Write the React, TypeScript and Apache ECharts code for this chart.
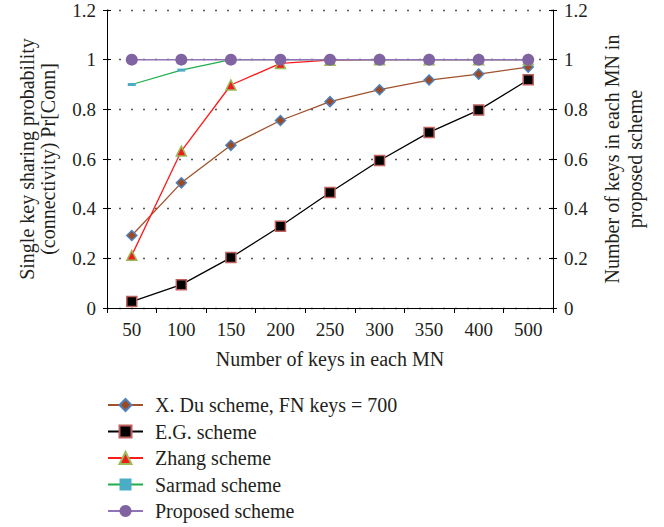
import React, { useEffect, useRef } from "react";
import * as echarts from "echarts";

const categories = ["50", "100", "150", "200", "250", "300", "350", "400", "500"];
const xDu = [0.292, 0.504, 0.655, 0.755, 0.831, 0.879, 0.918, 0.942, 0.97];
const eg = [0.026, 0.094, 0.203, 0.329, 0.465, 0.594, 0.707, 0.797, 0.919];
const zhang = [0.212, 0.632, 0.898, 0.985, 0.998, 1, 1, 1, 1];
const sarmad = [0.9, 0.958, 1, 1, 1, 1, 1, 1, 1];
const proposed = [1, 1, 1, 1, 1, 1, 1, 1, 1];

const FONT = "Liberation Serif";
const TXT = "#231f20";

export default function App() {
  const ref = useRef<HTMLDivElement>(null);
  useEffect(() => {
    if (!ref.current) return;
    document.body.style.margin = "0";
    const chart = echarts.init(ref.current, null, { renderer: "svg" });
    const yBase = {
      type: "value",
      min: 0,
      max: 1.2,
      interval: 0.2,
    };
    const fmt = (v: number) => String(Math.round(v * 10) / 10);
    chart.setOption({
      animation: false,
      textStyle: { fontFamily: FONT, color: TXT },
      grid: { left: 107, right: 111, top: 10, bottom: 219, containLabel: false },
      legend: {
        orient: "vertical",
        left: 107,
        top: 395,
        height: 132,
        padding: 0,
        itemWidth: 35,
        itemHeight: 15,
        itemGap: 6.5,
        textStyle: { fontFamily: FONT, fontSize: 20, color: TXT, padding: [0, 0, 0, 7] },
        data: [
          "X. Du scheme, FN keys = 700",
          "E.G. scheme",
          "Zhang scheme",
          "Sarmad scheme",
          "Proposed scheme",
        ],
      },
      xAxis: {
        type: "category",
        data: categories,
        boundaryGap: true,
        name: "Number of keys in each MN",
        nameLocation: "middle",
        nameGap: 41,
        nameTextStyle: { fontFamily: FONT, fontSize: 20, color: TXT, verticalAlign: "top" },
        axisLine: { lineStyle: { color: "#000", width: 1 } },
        axisTick: { show: true, length: 5, lineStyle: { color: "#000" } },
        axisLabel: { fontFamily: FONT, fontSize: 19, color: TXT, margin: 12 },
        splitLine: { show: false },
      },
      yAxis: [
        {
          ...yBase,
          position: "left",
          name: "Single key sharing probability\n(connectivity) Pr[Conn]",
          nameLocation: "middle",
          nameRotate: 90,
          nameGap: 49,
          nameTextStyle: { fontFamily: FONT, fontSize: 20, color: TXT, lineHeight: 21 },
          axisLine: { show: true, lineStyle: { color: "#000", width: 1 } },
          axisTick: { show: true, length: 4, lineStyle: { color: "#000" } },
          axisLabel: { fontFamily: FONT, fontSize: 19, color: TXT, margin: 11, formatter: fmt },
          splitLine: {
            show: true,
            lineStyle: { color: "#555", type: [2, 10], width: 1.3 },
          },
        },
        {
          ...yBase,
          position: "right",
          name: "Number of keys in each MN in\nproposed scheme",
          nameLocation: "middle",
          nameRotate: 90,
          nameGap: 47,
          nameTextStyle: { fontFamily: FONT, fontSize: 20, color: TXT, lineHeight: 23 },
          axisLine: { show: true, lineStyle: { color: "#000", width: 1 } },
          axisTick: { show: true, length: 4, lineStyle: { color: "#000" } },
          axisLabel: { fontFamily: FONT, fontSize: 19, color: TXT, margin: 11, formatter: fmt },
          splitLine: { show: false },
        },
        {
          ...yBase,
          position: "left",
          axisLine: { show: false },
          axisTick: { show: true, inside: true, length: 4, lineStyle: { color: "#000" } },
          axisLabel: { show: false },
          splitLine: { show: false },
        },
        {
          ...yBase,
          position: "right",
          axisLine: { show: false },
          axisTick: { show: true, inside: true, length: 4, lineStyle: { color: "#000" } },
          axisLabel: { show: false },
          splitLine: { show: false },
        },
      ],
      series: [
        {
          name: "X. Du scheme, FN keys = 700",
          type: "line",
          data: xDu,
          symbol: "diamond",
          symbolSize: 10,
          lineStyle: { color: "#a0522d", width: 1.3 },
          itemStyle: { color: "#9c4a22", borderColor: "#4f81bd", borderWidth: 1.5 },
        },
        {
          name: "E.G. scheme",
          type: "line",
          data: eg,
          symbol: "rect",
          symbolSize: 10,
          lineStyle: { color: "#000", width: 1.3 },
          itemStyle: { color: "#000", borderColor: "#c0605d", borderWidth: 1.5 },
        },
        {
          name: "Zhang scheme",
          type: "line",
          data: zhang,
          symbol: "triangle",
          symbolSize: 10,
          lineStyle: { color: "#ff1a1a", width: 1.3 },
          itemStyle: { color: "#ee1c1c", borderColor: "#9bbb59", borderWidth: 1.5 },
        },
        {
          name: "Sarmad scheme",
          type: "line",
          data: sarmad,
          symbol: "rect",
          symbolSize: [8, 3],
          lineStyle: { color: "#1fae4b", width: 1.3 },
          itemStyle: { color: "#4bacc6", borderWidth: 0 },
        },
        {
          name: "Proposed scheme",
          type: "line",
          data: proposed,
          symbol: "circle",
          symbolSize: 12,
          lineStyle: { color: "#8f75b5", width: 1.5 },
          itemStyle: { color: "#8064a2", borderWidth: 0 },
        },
      ],
    });
    return () => chart.dispose();
  }, []);
  return <div ref={ref} style={{ width: 664, height: 527 }} />;
}
